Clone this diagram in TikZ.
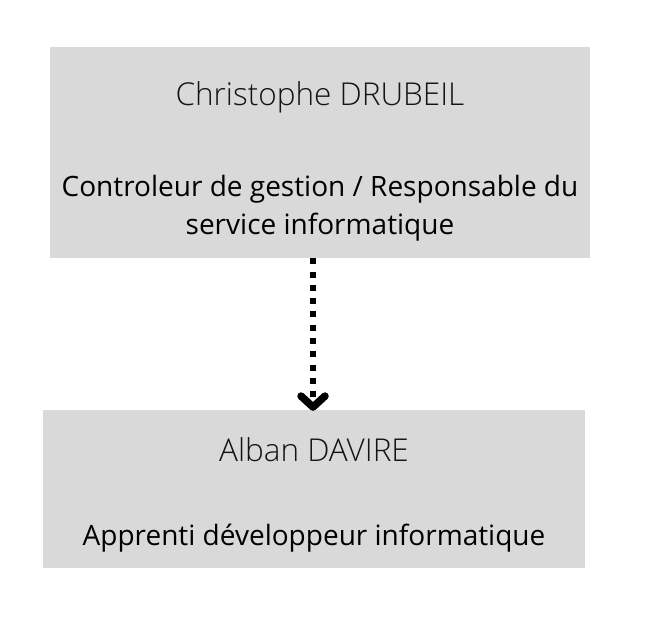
\documentclass[tikz,border=0pt]{standalone}
\usepackage{fontspec}
\setmainfont{Open Sans}
\newfontfamily\namefont{Open Sans Light}
\usetikzlibrary{arrows.meta,positioning}
\definecolor{boxgray}{HTML}{D9D9D9}
\begin{document}
\begin{tikzpicture}[x=1pt,y=-1pt,
box/.style={fill=boxgray,draw=none,inner sep=0pt},
nametext/.style={font=\namefont\fontsize{31.5}{36}\selectfont,text=black!92,inner sep=0pt},
roletext/.style={font=\fontsize{28}{38}\selectfont,text=black,align=center,inner sep=0pt},
link/.style={line width=6pt,dash pattern=on 6pt off 7.3pt,-{Straight Barb[length=11pt,width=24pt,line width=7.5pt,round]}}]
\useasboundingbox (0,0) rectangle (672,618);
\node[box,minimum width=540pt,minimum height=211pt] (chris) at (320,152.5) {};
\node[box,minimum width=542pt,minimum height=158pt] (alban) at (314,489) {};

\node[nametext] (chrisname) at (320,97) {Christophe DRUBEIL};
\node[roletext] (chrisrole) at (320,208) {Controleur de gestion / Responsable du\\service informatique};
\node[nametext] (albanname) at (314,450) {Alban DAVIRE};
\node[roletext] (albanrole) at (314,538) {Apprenti développeur informatique};

\draw[link] ([xshift=-7pt]chris.south) -- ([xshift=-1pt,yshift=-1pt]alban.north);
\end{tikzpicture}
\end{document}
